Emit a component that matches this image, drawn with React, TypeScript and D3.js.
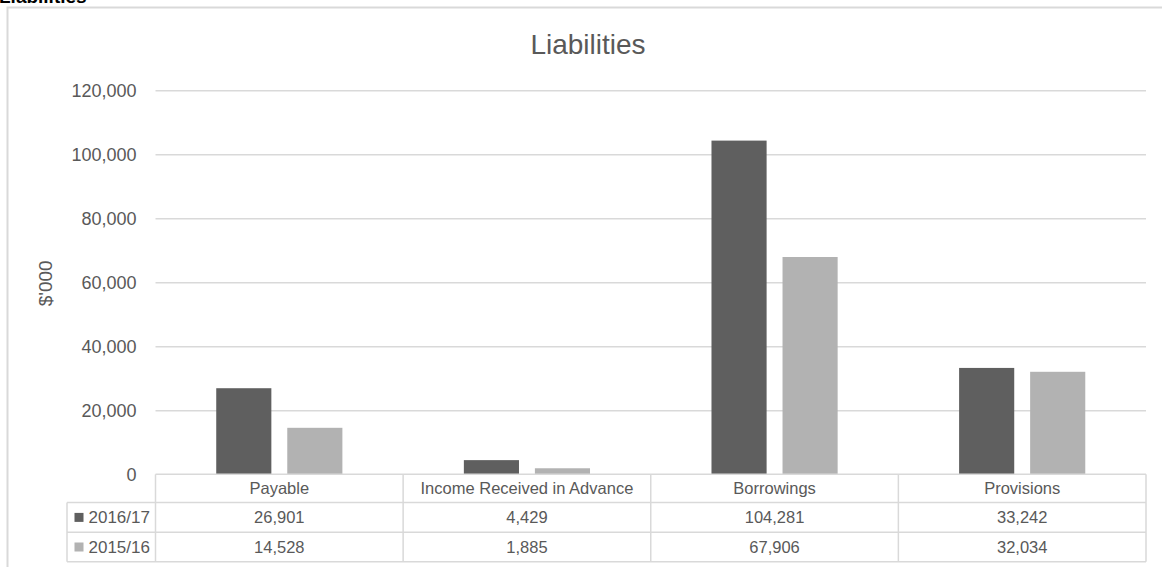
import React, { useEffect, useRef } from 'react';
import * as d3 from 'd3';

const categories = ['Payable', 'Income Received in Advance', 'Borrowings', 'Provisions'];
const seriesNames = ['2016/17', '2015/16'];
const values2017 = [26901, 4429, 104281, 33242];
const values2016 = [14528, 1885, 67906, 32034];
const yTicks = [0, 20000, 40000, 60000, 80000, 100000, 120000];

const colors = ['#5f5f5f', '#b2b2b2'];
const textColor = '#595959';
const lineColor = '#d9d9d9';
const font = '"Liberation Sans", Arial, sans-serif';

const App = () => {
  const ref = useRef<SVGSVGElement | null>(null);

  useEffect(() => {
    if (!ref.current) return;
    const svg = d3.select(ref.current);
    svg.selectAll('*').remove();

    const width = 1162;
    const height = 567;
    const plotLeft = 155.5;
    const plotRight = 1146;
    const zeroY = 474.3;
    const topY = 90.3;
    const legendLeft = 67;
    const rowEdges = [zeroY, 502.5, 532.3, 561.7];

    const series = [values2017, values2016];

    // outer chart frame (right/bottom run off the page)
    svg.append('rect')
      .attr('x', 7.5).attr('y', 7.5)
      .attr('width', width + 20).attr('height', height + 20)
      .attr('fill', '#fff')
      .attr('stroke', lineColor)
      .attr('stroke-width', 2);

    // heading above the chart, cut off by the page top
    svg.append('text')
      .attr('x', -1).attr('y', 3)
      .attr('font-family', font)
      .attr('font-size', 19)
      .attr('font-weight', 'bold')
      .attr('fill', '#000')
      .text('Liabilities');

    // chart title
    svg.append('text')
      .attr('x', 588).attr('y', 54.3)
      .attr('text-anchor', 'middle')
      .attr('font-family', font)
      .attr('font-size', 28)
      .attr('fill', textColor)
      .text('Liabilities');

    const x0 = d3.scaleBand<string>()
      .domain(categories)
      .range([plotLeft, plotRight])
      .paddingInner(0)
      .paddingOuter(0);

    const x1 = d3.scaleBand<string>()
      .domain(seriesNames)
      .range([0, x0.bandwidth()])
      .paddingInner(0.224)
      .paddingOuter(0.855);

    const y = d3.scaleLinear().domain([0, 120000]).range([zeroY, topY]);

    // gridlines + tick labels
    const yAxis = svg.append('g')
      .attr('transform', `translate(${plotLeft},0)`)
      .call(
        d3.axisLeft(y)
          .tickValues(yTicks)
          .tickSize(-(plotRight - plotLeft))
          .tickPadding(19)
          .tickFormat(d3.format(',') as any)
      );
    yAxis.select('.domain').remove();
    yAxis.selectAll('line')
      .attr('stroke', lineColor)
      .attr('stroke-width', 1.5)
      .filter((d: any) => d === 0)
      .remove();
    yAxis.selectAll('text')
      .attr('fill', textColor)
      .attr('font-family', font)
      .attr('font-size', 18);

    // axis title
    svg.append('text')
      .attr('transform', `translate(52,${(zeroY + topY) / 2 + 1}) rotate(-90)`)
      .attr('text-anchor', 'middle')
      .attr('font-family', font)
      .attr('font-size', 19)
      .attr('fill', textColor)
      .text("$'000");

    // bars
    seriesNames.forEach((name, si) => {
      svg.append('g')
        .selectAll('rect')
        .data(series[si])
        .join('rect')
        .attr('x', (_d, i) => (x0(categories[i]) as number) + (x1(name) as number))
        .attr('y', (d) => y(d))
        .attr('width', x1.bandwidth())
        .attr('height', (d) => zeroY - y(d))
        .attr('fill', colors[si]);
    });

    // data table
    const table = svg.append('g')
      .attr('stroke', lineColor)
      .attr('stroke-width', 1.5)
      .attr('fill', 'none');

    table.append('line')
      .attr('x1', plotLeft).attr('x2', plotRight)
      .attr('y1', rowEdges[0]).attr('y2', rowEdges[0]);
    rowEdges.slice(1).forEach((ry) => {
      table.append('line')
        .attr('x1', legendLeft).attr('x2', plotRight)
        .attr('y1', ry).attr('y2', ry);
    });
    table.append('line')
      .attr('x1', legendLeft).attr('x2', legendLeft)
      .attr('y1', rowEdges[1]).attr('y2', rowEdges[3]);
    const colEdges = categories.map((c) => x0(c) as number).concat([plotRight]);
    colEdges.forEach((cx) => {
      table.append('line')
        .attr('x1', cx).attr('x2', cx)
        .attr('y1', rowEdges[0]).attr('y2', rowEdges[3]);
    });

    const rowMid = (r: number) => (rowEdges[r] + rowEdges[r + 1]) / 2;
    const cellText = svg.append('g')
      .attr('font-family', font)
      .attr('font-size', 16.5)
      .attr('fill', textColor)
      .attr('text-anchor', 'middle');

    categories.forEach((c) => {
      cellText.append('text')
        .attr('x', (x0(c) as number) + x0.bandwidth() / 2)
        .attr('y', rowMid(0))
        .attr('dy', '0.35em')
        .text(c);
    });

    seriesNames.forEach((name, si) => {
      const ry = rowMid(si + 1);
      svg.append('rect')
        .attr('x', 74.5).attr('y', ry - 4.5)
        .attr('width', 9).attr('height', 9)
        .attr('fill', colors[si]);
      svg.append('text')
        .attr('x', 88.5).attr('y', ry)
        .attr('dy', '0.35em')
        .attr('font-family', font)
        .attr('font-size', 17)
        .attr('fill', textColor)
        .text(name);
      series[si].forEach((v, i) => {
        cellText.append('text')
          .attr('x', (x0(categories[i]) as number) + x0.bandwidth() / 2)
          .attr('y', ry)
          .attr('dy', '0.35em')
          .text(d3.format(',')(v));
      });
    });
  }, []);

  return (
    <div style={{ position: 'absolute', left: 0, top: 0 }}>
      <svg ref={ref} width={1162} height={567} style={{ display: 'block', background: '#fff' }} />
    </div>
  );
};

export default App;
